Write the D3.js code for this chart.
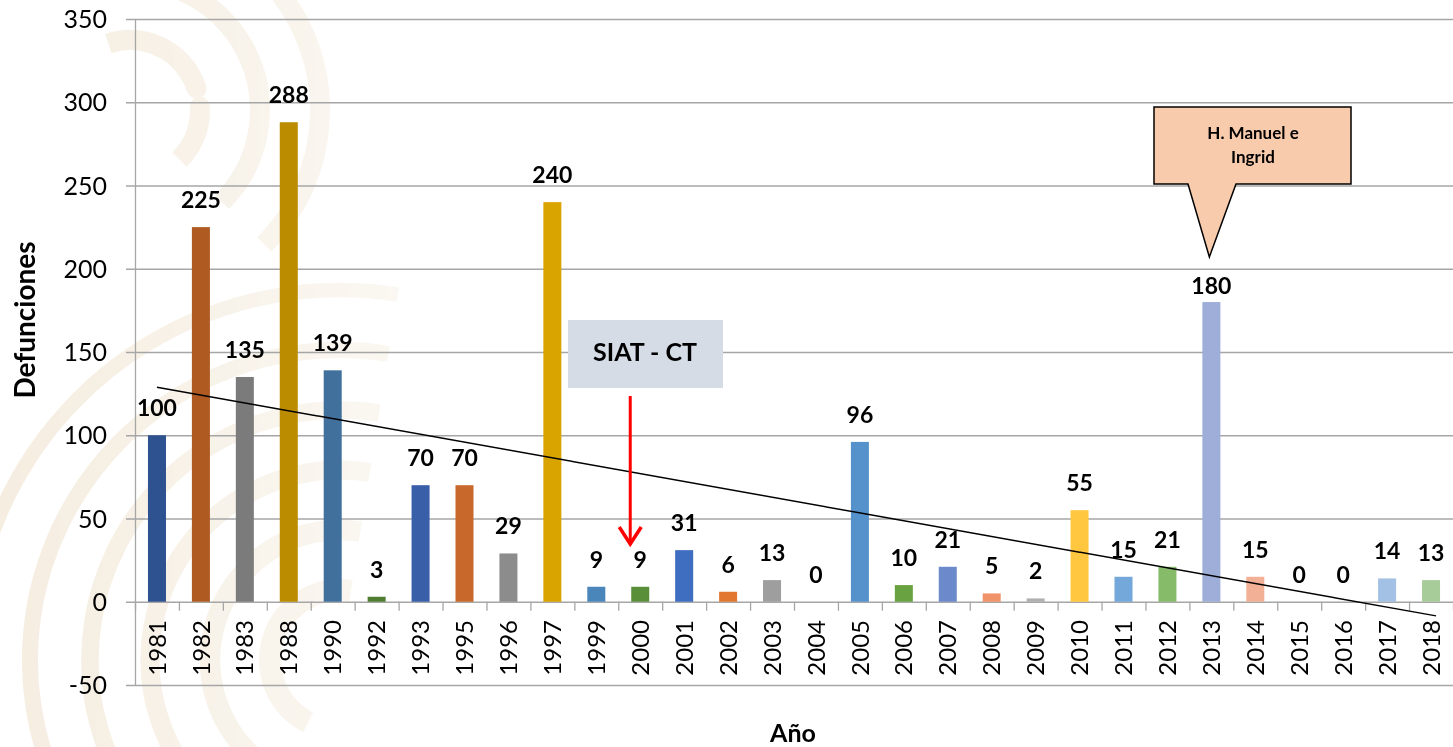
<!DOCTYPE html>
<html lang="es">
<head>
<meta charset="utf-8">
<title>Defunciones por año</title>
<script src="https://d3js.org/d3.v7.min.js"></script>
<style>
  body { margin: 0; background: #fff; }
  svg { display: block; font-family: Lato, "Open Sans", sans-serif; }
</style>
</head>
<body>
<div id="chart"></div>
<script>
// datos
var years = ["1981","1982","1983","1988","1990","1992","1993","1995","1996","1997",
             "1999","2000","2001","2002","2003","2004","2005","2006","2007","2008",
             "2009","2010","2011","2012","2013","2014","2015","2016","2017","2018"];
var deaths = [100,225,135,288,139,3,70,70,29,240,
              9,9,31,6,13,0,96,10,21,5,
              2,55,15,21,180,15,0,0,14,13];
var palette = ["#2E5190","#AE5A21","#7B7B7B","#BC8C00","#41709D","#4F7E32","#395FA9","#C8692B","#8C8C8C","#D9A400",
               "#4B86BA","#5A8F3A","#3F6DBF","#E2782F","#9E9E9E","#999999","#5592CB","#69A341","#6C89CB","#F0936A",
               "#B0B0B0","#FFC740","#74A8DA","#86BB6A","#9EAED8","#F2B197","#cccccc","#cccccc","#A3C1E4","#A8CC99"];
var yTicks = [-50,0,50,100,150,200,250,300,350];

var w = 1453, h = 747;
var svg = d3.select("#chart").append("svg").attr("width", w).attr("height", h);

// fondo (marca de agua)
var defs = svg.append("defs");
var grad = defs.append("linearGradient").attr("id", "fade");
grad.append("stop").attr("offset", "0%").attr("stop-color", "#fff").attr("stop-opacity", 1);
grad.append("stop").attr("offset", "100%").attr("stop-color", "#fff").attr("stop-opacity", 0);
var mask = defs.append("mask").attr("id", "wm");
mask.append("rect").attr("width", 700).attr("height", h).attr("fill", "url(#fade)");
var wm = svg.append("g").attr("mask", "url(#wm)").attr("fill", "none")
            .attr("stroke", "#F5EDE0").attr("stroke-linecap", "round");
[70, 130, 190, 250, 310, 370].forEach(function(r, i) {
  wm.append("path")
    .attr("d", d3.arc()({innerRadius: r, outerRadius: r, startAngle: -Math.PI * 0.85, endAngle: Math.PI * 0.05}))
    .attr("transform", "translate(340,660)")
    .attr("stroke-width", 22 - i * 1.5)
    .attr("stroke-dasharray", "140,30");
});
[70, 130, 190].forEach(function(r) {
  wm.append("path")
    .attr("d", d3.arc()({innerRadius: r, outerRadius: r, startAngle: -Math.PI * 0.1, endAngle: Math.PI * 0.75}))
    .attr("transform", "translate(130,110)")
    .attr("stroke-width", 20)
    .attr("stroke-dasharray", "110,25");
});

var x = d3.scaleBand().domain(years).range([135, 1453]).paddingInner(0.59).paddingOuter(0.295);
var y = d3.scaleLinear().domain([-50, 350]).range([685, 19]);
var step = x.step();

// lineas de cuadricula
svg.append("g").selectAll("line").data(yTicks).enter().append("line")
  .attr("x1", 126).attr("x2", 1453)
  .attr("y1", function(d) { return y(d) + 0.5; }).attr("y2", function(d) { return y(d) + 0.5; })
  .attr("stroke", "#A6A6A6").attr("stroke-width", 1.3);

svg.append("g").selectAll("text").data(yTicks).enter().append("text")
  .attr("x", 107).attr("y", function(d) { return y(d); })
  .attr("dy", "0.36em").attr("text-anchor", "end")
  .style("font-size", "25px").attr("fill", "#000")
  .text(function(d) { return d; });

// eje y
svg.append("line").attr("x1", 135.5).attr("x2", 135.5).attr("y1", y(350)).attr("y2", y(-50))
  .attr("stroke", "#A6A6A6").attr("stroke-width", 1.3);

// marcas del eje x
svg.append("g").selectAll("line").data(d3.range(years.length + 1)).enter().append("line")
  .attr("x1", function(i) { return 135.5 + i * step; }).attr("x2", function(i) { return 135.5 + i * step; })
  .attr("y1", y(0)).attr("y2", y(0) + 9)
  .attr("stroke", "#A6A6A6").attr("stroke-width", 1.3);

// barras
svg.append("g").selectAll("rect").data(years).enter().append("rect")
  .attr("x", function(d) { return x(d); })
  .attr("width", x.bandwidth())
  .attr("y", function(d, i) { return y(deaths[i]); })
  .attr("height", function(d, i) { return y(0) - y(deaths[i]); })
  .attr("fill", function(d, i) { return palette[i]; });

// etiquetas de valores (la de 2013 va mas pegada a la barra)
svg.append("g").selectAll("text").data(years).enter().append("text")
  .attr("x", function(d) { return x(d) + x.bandwidth() / 2; })
  .attr("y", function(d, i) { return y(deaths[i]) - (d === "2013" ? 8 : 19); })
  .attr("text-anchor", "middle")
  .style("font-size", "23px").style("font-weight", "bold")
  .text(function(d, i) { return deaths[i]; });

// etiquetas de años
svg.append("g").selectAll("text").data(years).enter().append("text")
  .attr("transform", function(d) { return "translate(" + (x(d) + x.bandwidth() / 2) + ",620) rotate(-90)"; })
  .attr("text-anchor", "end").attr("dy", "0.36em")
  .style("font-size", "24px")
  .text(function(d) { return d; });

// linea de tendencia (regresion lineal)
var idx = d3.range(deaths.length);
var mx = d3.mean(idx), my = d3.mean(deaths);
var slope = d3.sum(idx, function(i) { return (i - mx) * (deaths[i] - my); }) /
            d3.sum(idx, function(i) { return (i - mx) * (i - mx); });
var icpt = my - slope * mx;
var last = deaths.length - 1;
svg.append("line")
  .attr("x1", x(years[0]) + x.bandwidth() / 2).attr("y1", y(icpt))
  .attr("x2", x(years[last]) + x.bandwidth() / 2 + 5).attr("y2", y(icpt + slope * (last + 0.12)))
  .attr("stroke", "#000").attr("stroke-width", 1.5);

// titulos de ejes
svg.append("text").attr("transform", "translate(35,320) rotate(-90)")
  .attr("text-anchor", "middle").style("font-size", "28px").style("font-weight", "bold")
  .text("Defunciones");
svg.append("text").attr("x", 793).attr("y", 742)
  .attr("text-anchor", "middle").style("font-size", "25px").style("font-weight", "bold")
  .text("Año");

// anotacion SIAT - CT
svg.append("rect").attr("x", 568).attr("y", 320).attr("width", 155).attr("height", 68).attr("fill", "#D6DCE5");
svg.append("text").attr("x", 645).attr("y", 352).attr("dy", "0.36em").attr("text-anchor", "middle")
  .style("font-size", "25px").style("font-weight", "bold").text("SIAT - CT");
var ax = x("2000") + x.bandwidth() / 2 - 10;
svg.append("line").attr("x1", ax).attr("x2", ax).attr("y1", 396).attr("y2", 544)
  .attr("stroke", "#FF0000").attr("stroke-width", 3);
svg.append("path").attr("d", "M" + (ax - 11) + ",527 L" + ax + ",544 L" + (ax + 11) + ",527")
  .attr("fill", "none").attr("stroke", "#FF0000").attr("stroke-width", 3.5);

// anotacion huracanes
var cx = x("2013") + x.bandwidth() / 2;
svg.append("path")
  .attr("d", "M1154,107 L1351,107 L1351,184 L1236,184 L" + (cx - 2) + ",257 L1188,184 L1154,184 Z")
  .attr("fill", "#F8CBAD").attr("stroke", "#000").attr("stroke-width", 1.5);
svg.append("text").attr("x", 1253).attr("y", 139).attr("text-anchor", "middle")
  .style("font-size", "17px").style("font-weight", "bold").text("H. Manuel e");
svg.append("text").attr("x", 1253).attr("y", 163).attr("text-anchor", "middle")
  .style("font-size", "17px").style("font-weight", "bold").text("Ingrid");
</script>
</body>
</html>
